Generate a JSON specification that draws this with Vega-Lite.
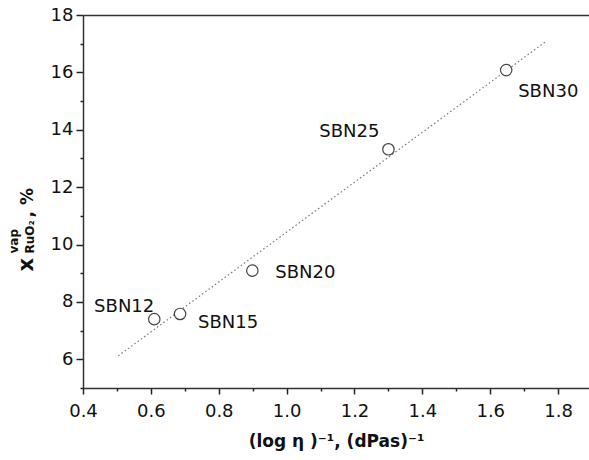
{
  "$schema": "https://vega.github.io/schema/vega-lite/v6.json",
  "autosize": "none",
  "width": 506,
  "height": 373,
  "padding": {"left": 83, "top": 15, "right": 0, "bottom": 72},
  "background": "white",
  "datasets": {
    "pts": [
      {"label": "SBN12", "x": 0.61, "y": 7.40},
      {"label": "SBN15", "x": 0.686, "y": 7.58},
      {"label": "SBN20", "x": 0.899, "y": 9.09},
      {"label": "SBN25", "x": 1.30, "y": 13.32},
      {"label": "SBN30", "x": 1.647, "y": 16.08}
    ],
    "fit": [
      {"x": 0.504, "y": 6.12},
      {"x": 1.762, "y": 17.06}
    ]
  },
  "config": {
    "view": {"stroke": null},
    "font": "DejaVu Sans",
    "axis": {
      "grid": false,
      "domainColor": "#333",
      "domainWidth": 1.5,
      "ticks": true,
      "tickColor": "#222",
      "tickWidth": 1.5,
      "labelFont": "DejaVu Sans",
      "labelFontSize": 18,
      "labelColor": "#111",
      "titleFont": "DejaVu Sans",
      "titleColor": "#111",
      "titleFontWeight": "bold"
    }
  },
  "resolve": {"axis": {"x": "independent", "y": "independent"}},
  "layer": [
    {
      "data": {"name": "fit"},
      "mark": {"type": "line", "color": "#777", "strokeDash": [1.5, 2.5], "strokeWidth": 1.2},
      "encoding": {
        "x": {
          "field": "x", "type": "quantitative",
          "scale": {"domain": [0.4, 1.891], "nice": false, "zero": false},
          "axis": {
            "orient": "bottom",
            "values": [0.4, 0.6, 0.8, 1.0, 1.2, 1.4, 1.6, 1.8],
            "format": ".1f",
            "ticks": true,
            "tickSize": 6,
            "labelPadding": 8,
            "labelFlush": false,
            "labelOverlap": false,
            "title": "(log η )⁻¹, (dPas)⁻¹",
            "titleFontSize": 17,
            "titleY": 58,
            "titleBaseline": "alphabetic"
          }
        },
        "y": {
          "field": "y", "type": "quantitative",
          "scale": {"domain": [5, 18], "nice": false, "zero": false},
          "axis": {
            "orient": "left",
            "values": [6, 8, 10, 12, 14, 16, 18],
            "ticks": true,
            "tickSize": 7,
            "labelPadding": 3,
            "labelFlush": false,
            "labelOverlap": false,
            "title": "x",
            "titleFontSize": 21,
            "titleAngle": 270,
            "titleAlign": "left",
            "titleBaseline": "alphabetic",
            "titleX": -51,
            "titleY": 256
          }
        }
      }
    },
    {
      "data": {"name": "pts"},
      "mark": {"type": "point", "shape": "circle", "size": 130, "filled": true, "fill": "white", "stroke": "#444", "strokeWidth": 1.2, "opacity": 1},
      "encoding": {
        "x": {
          "field": "x", "type": "quantitative",
          "scale": {"domain": [0.4, 1.891], "nice": false, "zero": false},
          "axis": {"orient": "top", "domain": true, "ticks": false, "labels": false, "title": null, "grid": false}
        },
        "y": {
          "field": "y", "type": "quantitative",
          "scale": {"domain": [5, 18], "nice": false, "zero": false},
          "axis": {
            "orient": "left",
            "values": [5, 7, 9, 11, 13, 15, 17],
            "domain": false, "ticks": true, "tickSize": 3, "labels": false, "grid": false,
            "title": "vap",
            "titleFontSize": 12,
            "titleAngle": 270,
            "titleAlign": "left",
            "titleBaseline": "alphabetic",
            "titleX": -66,
            "titleY": 238
          }
        }
      }
    },
    {
      "data": {"name": "pts"},
      "transform": [{"filter": "datum.label === 'SBN12'"}],
      "mark": {"type": "text", "align": "right", "baseline": "alphabetic", "dx": 0, "dy": -7, "fontSize": 18, "font": "DejaVu Sans", "color": "#111"},
      "encoding": {
        "x": {
          "field": "x", "type": "quantitative",
          "scale": {"domain": [0.4, 1.891], "nice": false, "zero": false},
          "axis": {"orient": "bottom", "values": [0.5, 0.7, 0.9, 1.1, 1.3, 1.5, 1.7], "domain": false, "ticks": true, "tickSize": 3, "labels": false, "title": null, "grid": false}
        },
        "y": {
          "field": "y", "type": "quantitative",
          "scale": {"domain": [5, 18], "nice": false, "zero": false},
          "axis": {
            "orient": "left",
            "domain": false, "ticks": false, "labels": false, "grid": false,
            "title": "RuO₂",
            "titleFontSize": 12,
            "titleAngle": 270,
            "titleAlign": "left",
            "titleBaseline": "alphabetic",
            "titleX": -50,
            "titleY": 238
          }
        },
        "text": {"field": "label"}
      }
    },
    {
      "data": {"name": "pts"},
      "transform": [{"filter": "datum.label === 'SBN15'"}],
      "mark": {"type": "text", "align": "left", "baseline": "alphabetic", "dx": 18, "dy": 14, "fontSize": 18, "font": "DejaVu Sans", "color": "#111"},
      "encoding": {
        "x": {"field": "x", "type": "quantitative", "scale": {"domain": [0.4, 1.891], "nice": false, "zero": false}, "axis": null},
        "y": {
          "field": "y", "type": "quantitative",
          "scale": {"domain": [5, 18], "nice": false, "zero": false},
          "axis": {
            "orient": "left",
            "domain": false, "ticks": false, "labels": false, "grid": false,
            "title": ", %",
            "titleFontSize": 17,
            "titleAngle": 270,
            "titleAlign": "left",
            "titleBaseline": "alphabetic",
            "titleX": -51,
            "titleY": 202
          }
        },
        "text": {"field": "label"}
      }
    },
    {
      "data": {"name": "pts"},
      "transform": [{"filter": "datum.label === 'SBN20'"}],
      "mark": {"type": "text", "align": "left", "baseline": "alphabetic", "dx": 23, "dy": 7, "fontSize": 18, "font": "DejaVu Sans", "color": "#111"},
      "encoding": {
        "x": {"field": "x", "type": "quantitative", "scale": {"domain": [0.4, 1.891], "nice": false, "zero": false}, "axis": null},
        "y": {"field": "y", "type": "quantitative", "scale": {"domain": [5, 18], "nice": false, "zero": false}, "axis": null},
        "text": {"field": "label"}
      }
    },
    {
      "data": {"name": "pts"},
      "transform": [{"filter": "datum.label === 'SBN25'"}],
      "mark": {"type": "text", "align": "right", "baseline": "alphabetic", "dx": -9, "dy": -12, "fontSize": 18, "font": "DejaVu Sans", "color": "#111"},
      "encoding": {
        "x": {"field": "x", "type": "quantitative", "scale": {"domain": [0.4, 1.891], "nice": false, "zero": false}, "axis": null},
        "y": {"field": "y", "type": "quantitative", "scale": {"domain": [5, 18], "nice": false, "zero": false}, "axis": null},
        "text": {"field": "label"}
      }
    },
    {
      "data": {"name": "pts"},
      "transform": [{"filter": "datum.label === 'SBN30'"}],
      "mark": {"type": "text", "align": "left", "baseline": "alphabetic", "dx": 12, "dy": 27, "fontSize": 18, "font": "DejaVu Sans", "color": "#111"},
      "encoding": {
        "x": {"field": "x", "type": "quantitative", "scale": {"domain": [0.4, 1.891], "nice": false, "zero": false}, "axis": null},
        "y": {"field": "y", "type": "quantitative", "scale": {"domain": [5, 18], "nice": false, "zero": false}, "axis": null},
        "text": {"field": "label"}
      }
    }
  ]
}
